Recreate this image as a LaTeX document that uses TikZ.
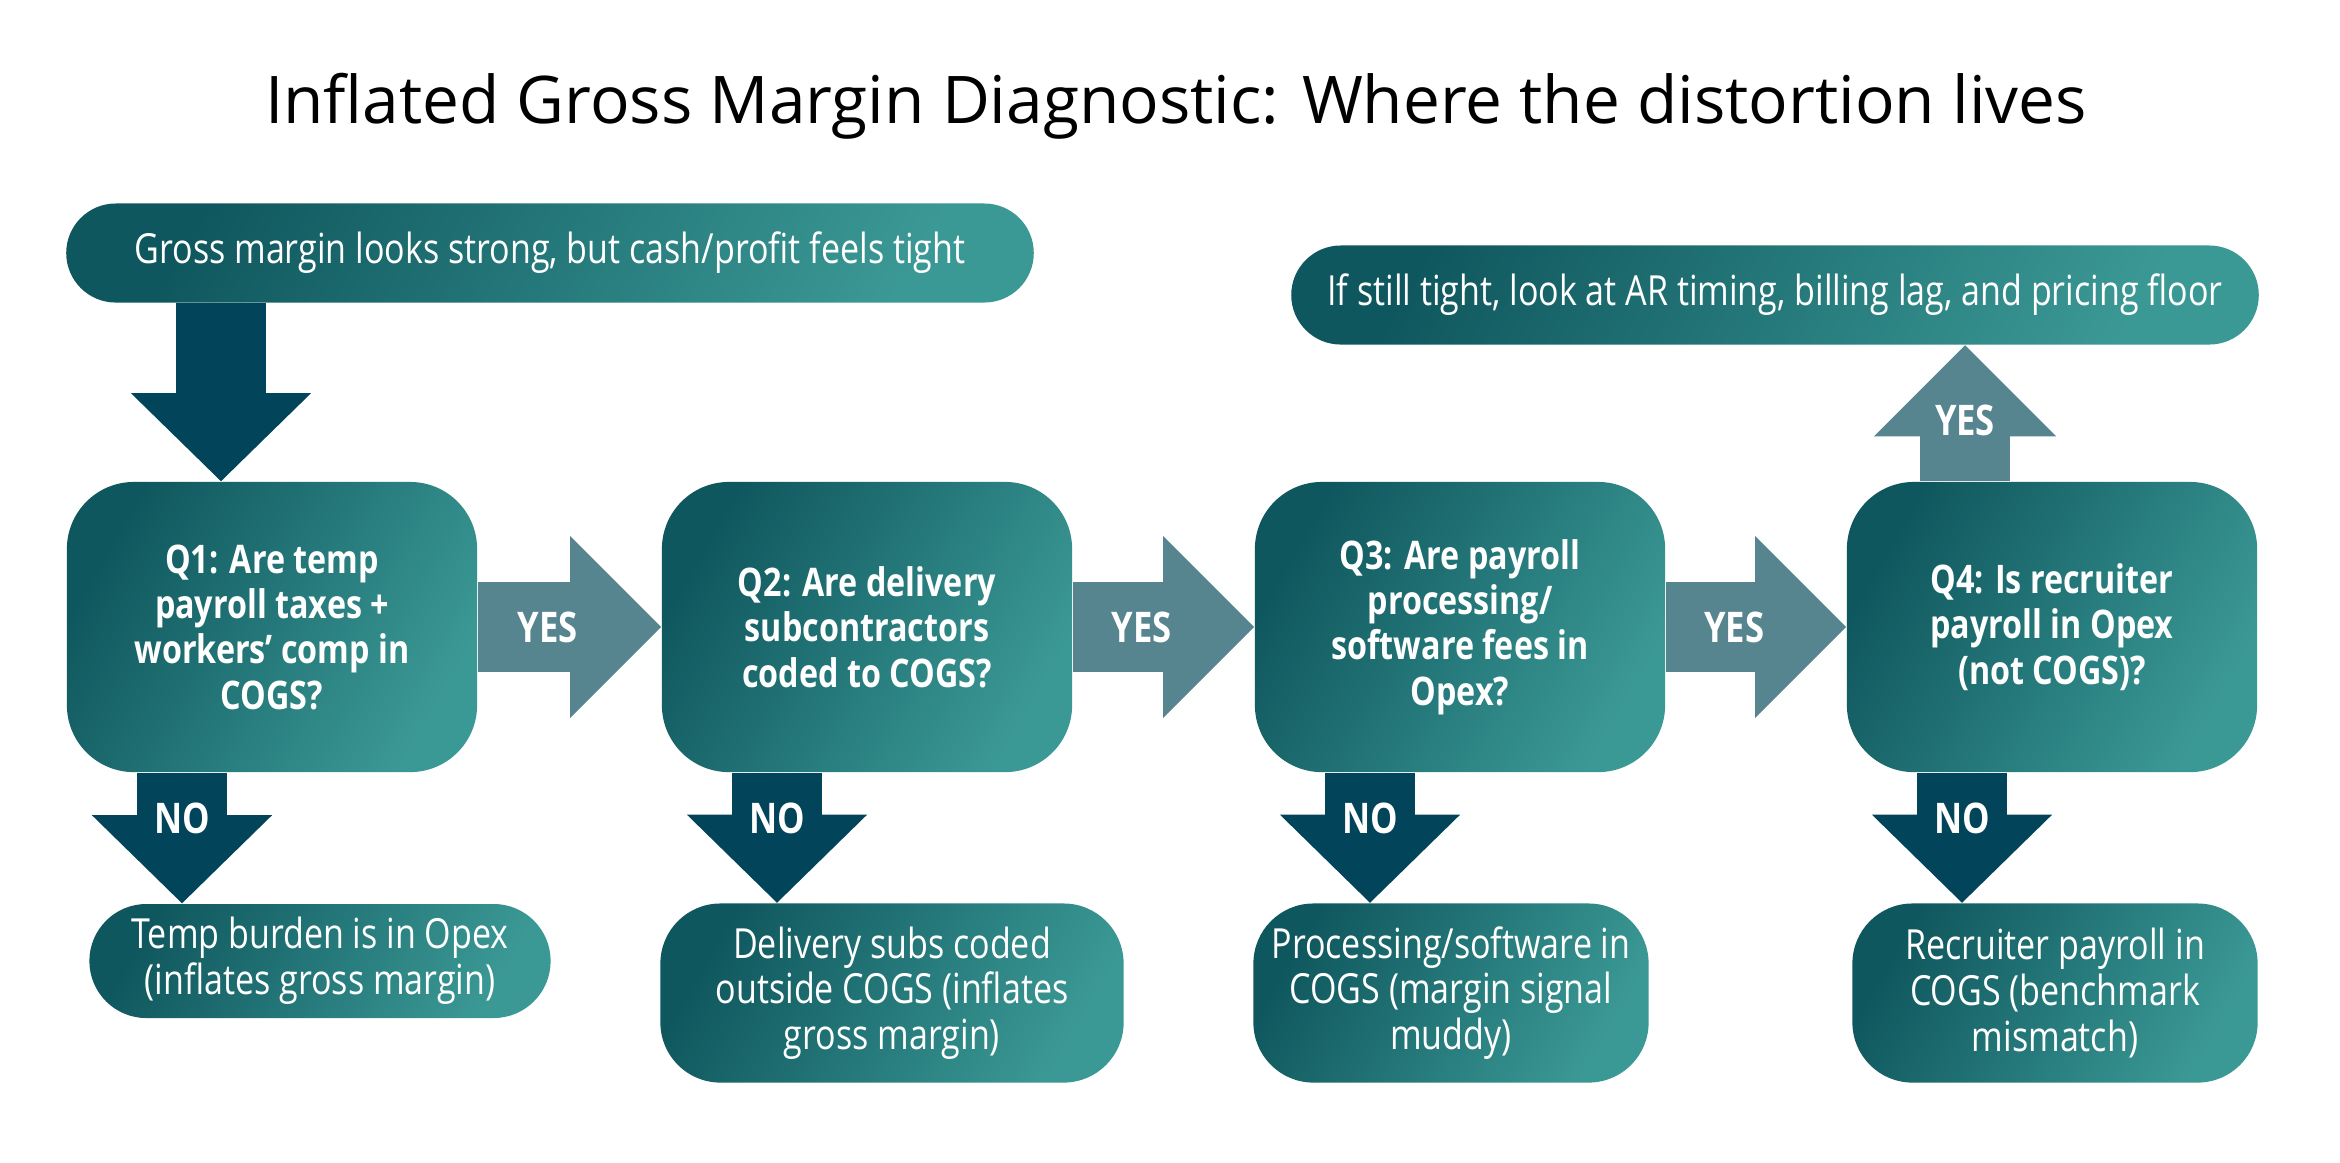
\documentclass[tikz,border=0pt]{standalone}
\usepackage{fontspec}
\setmainfont{Open Sans}
\newfontfamily\boxfont[FakeStretch=0.82]{Open Sans}
\usetikzlibrary{arrows.meta,calc,positioning}
\definecolor{tealDark}{HTML}{0F575E}
\definecolor{tealLight}{HTML}{3B9995}
\definecolor{arrowDark}{HTML}{02445A}
\definecolor{arrowYes}{HTML}{56858F}

\begin{document}
\begin{tikzpicture}[x=0.01cm,y=-0.01cm,
  box/.style={left color=tealDark,right color=tealLight,shading angle=60,
    text=white,align=center,inner sep=0pt,font=\boxfont\fontsize{11.8}{13}\selectfont},
  qbox/.style={box,minimum width=4.1cm,minimum height=2.9cm,rounded corners=0.67cm,
    font=\boxfont\bfseries\fontsize{11.2}{12.9}\selectfont},
  pill/.style={box,minimum height=0.99cm,rounded corners=0.495cm},
  endbox/.style={box,minimum height=1.79cm,rounded corners=0.6cm},
  lbl/.style={text=white,font=\boxfont\bfseries\fontsize{12}{13}\selectfont},
  downarrow/.style={arrowDark,line width=0.9cm,-{Triangle[width=1.8cm,length=0.88cm,line width=0pt]}},
  yesarrow/.style={arrowYes,line width=0.9cm,-{Triangle[width=1.82cm,length=0.91cm,line width=0pt]}}]
  \fill[white] (0,0) rectangle (2340,1162);
  \useasboundingbox (0,0) rectangle (2340,1162);

  \node[font=\fontsize{18.7}{22}\selectfont] (title) at (1176,106) {Inflated Gross Margin Diagnostic: Where the distortion lives};

  \node[pill,minimum width=9.67cm] (start) at (550,253) {Gross margin looks strong, but cash/profit feels tight};
  \node[pill,minimum width=9.67cm] (still) at (1775,295) {If still tight, look at AR timing, billing lag, and pricing floor};

  \node[qbox] (q1) at (272,627) {Q1: Are temp\\payroll taxes +\\workers’ comp in\\COGS?};
  \node[qbox] (q2) at (867,627) {Q2: Are delivery\\subcontractors\\coded to COGS?};
  \node[qbox] (q3) at (1460,627) {Q3: Are payroll\\processing/\\software fees in\\Opex?};
  \node[qbox] (q4) at (2052,627) {Q4: Is recruiter\\payroll in Opex\\(not COGS)?};

  \node[pill,minimum width=4.61cm,minimum height=1.14cm,rounded corners=0.57cm] (n1) at (320,961) {Temp burden is in Opex\\(inflates gross margin)};
  \node[endbox,minimum width=4.63cm] (n2) at (892,993) {Delivery subs coded\\outside COGS (inflates\\gross margin)};
  \node[endbox,minimum width=3.95cm] (n3) at (1451,993) {Processing/software in\\COGS (margin signal\\muddy)};
  \node[endbox,minimum width=4.05cm] (n4) at (2055,993) {Recruiter payroll in\\COGS (benchmark\\mismatch)};

  \coordinate (d0) at ($(q1.north)+(-51,0)$);
  \draw[downarrow] (d0 |- start.south) -- (d0);

  \foreach \a/\b in {q1/q2,q2/q3,q3/q4}
    \draw[yesarrow] (\a.east) -- (\b.west) node[pos=.38,lbl] {YES};

  \coordinate (u4) at ($(q4.north)+(-87,0)$);
  \draw[yesarrow] (u4) -- (u4 |- still.south) node[pos=.45,lbl] {YES};

  \foreach \i in {1,...,4} {
    \coordinate (c\i) at ($(q\i.south)+(-90,0)$);
    \draw[downarrow] (c\i) -- (c\i |- n\i.north) node[pos=.35,lbl] {NO};
  }
\end{tikzpicture}
\end{document}
